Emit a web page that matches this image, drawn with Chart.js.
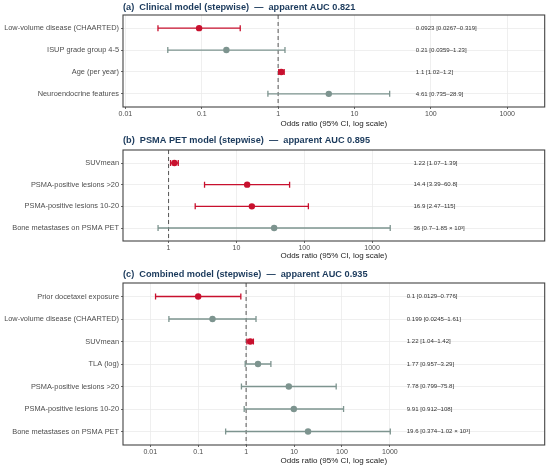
<!DOCTYPE html>
<html>
<head>
<meta charset="utf-8">
<script src="https://cdn.jsdelivr.net/npm/chart.js@4.4.1/dist/chart.umd.min.js"></script>
<style>
  body { margin: 0; background: #fff; }
  .panel { position: absolute; left: 0; width: 550px; }
</style>
</head>
<body>
<div class="panel" style="top:0px;height:130px"><canvas id="chart_a" width="550" height="130"></canvas></div>
<div class="panel" style="top:130px;height:132px"><canvas id="chart_b" width="550" height="132"></canvas></div>
<div class="panel" style="top:262px;height:205px"><canvas id="chart_c" width="550" height="205"></canvas></div>
<script>
// panel (a) clinical model
var titleA = '(a)  Clinical model (stepwise)  \u2014  apparent AUC 0.821';
var labelsA = ['Low-volume disease (CHAARTED)', 'ISUP grade group 4-5', 'Age (per year)', 'Neuroendocrine features'];
var orA = [0.0923, 0.21, 1.1, 4.61];
var loA = [0.0267, 0.0359, 1.02, 0.735];
var hiA = [0.319, 1.23, 1.2, 28.9];
var ciTextA = ['0.0923 [0.0267\u20130.319]', '0.21 [0.0359\u20131.23]', '1.1 [1.02\u20131.2]', '4.61 [0.735\u201328.9]'];

// panel (b) PSMA PET model
var titleB = '(b)  PSMA PET model (stepwise)  \u2014  apparent AUC 0.895';
var labelsB = ['SUVmean', 'PSMA-positive lesions >20', 'PSMA-positive lesions 10-20', 'Bone metastases on PSMA PET'];
var orB = [1.22, 14.4, 16.9, 36];
var loB = [1.07, 3.39, 2.47, 0.7];
var hiB = [1.39, 60.8, 115, 1850];
var ciTextB = ['1.22 [1.07\u20131.39]', '14.4 [3.39\u201360.8]', '16.9 [2.47\u2013115]', '36 [0.7\u20131.85 \u00d7 10\u00b3]'];

// panel (c) combined model
var titleC = '(c)  Combined model (stepwise)  \u2014  apparent AUC 0.935';
var labelsC = ['Prior docetaxel exposure', 'Low-volume disease (CHAARTED)', 'SUVmean', 'TLA (log)',
               'PSMA-positive lesions >20', 'PSMA-positive lesions 10-20', 'Bone metastases on PSMA PET'];
var orC = [0.1, 0.199, 1.22, 1.77, 7.78, 9.91, 19.6];
var loC = [0.0129, 0.0245, 1.04, 0.957, 0.799, 0.912, 0.374];
var hiC = [0.776, 1.61, 1.42, 3.29, 75.8, 108, 1020];
var ciTextC = ['0.1 [0.0129\u20130.776]', '0.199 [0.0245\u20131.61]', '1.22 [1.04\u20131.42]', '1.77 [0.957\u20133.29]',
               '7.78 [0.799\u201375.8]', '9.91 [0.912\u2013108]', '19.6 [0.374\u20131.02 \u00d7 10\u00b3]'];

var tickVals = [0.01, 0.1, 1, 10, 100, 1000];
var tickLabels = ['0.01', '0.1', '1', '10', '100', '1000'];

var RED = '#c8102e';
var GREY = '#7d948f';
var FONT = '"Liberation Sans", Arial, sans-serif';

function drawPanel(id, title, labels, or, lo, hi, ciText, xmin, xmax, topPad, xHeight, titleY) {
  var ctx = document.getElementById(id).getContext('2d');
  var colors = [];
  for (var i = 0; i < or.length; i++) {
    colors[i] = (lo[i] > 1 || hi[i] < 1) ? RED : GREY;
  }
  var textX = 2.2 * Math.max.apply(null, hi);

  var datasets = [{
    type: 'scatter',
    data: or.map(function (v, i) { return {x: v, y: i}; }),
    pointBackgroundColor: colors,
    pointBorderWidth: 0,
    pointRadius: 3.2,
    order: 0
  }];
  for (var j = 0; j < or.length; j++) {
    datasets.push({
      type: 'line',
      data: [{x: lo[j], y: j}, {x: hi[j], y: j}],
      borderColor: colors[j],
      borderWidth: 1.3,
      pointStyle: 'line',
      pointRotation: 90,
      pointRadius: 3,
      pointBorderColor: colors[j],
      pointBorderWidth: 1.3,
      order: 1
    });
  }

  var panelPlugin = {
    id: 'panel_' + id,
    beforeDatasetsDraw: function (chart) {
      var c = chart.ctx, a = chart.chartArea;
      var x1 = chart.scales.x.getPixelForValue(1);
      c.save();
      c.strokeStyle = '#555';
      c.lineWidth = 1;
      c.setLineDash([4, 3]);
      c.beginPath();
      c.moveTo(x1, a.top);
      c.lineTo(x1, a.bottom);
      c.stroke();
      c.restore();
    },
    afterDatasetsDraw: function (chart) {
      var c = chart.ctx;
      var xs = chart.scales.x, ys = chart.scales.y;
      c.save();
      c.font = '6.1px ' + FONT;
      c.fillStyle = '#333';
      c.textAlign = 'left';
      c.textBaseline = 'middle';
      for (var k = 0; k < ciText.length; k++) {
        c.fillText(ciText[k], xs.getPixelForValue(textX), ys.getPixelForValue(k));
      }
      c.restore();
    },
    afterDraw: function (chart) {
      var c = chart.ctx, a = chart.chartArea;
      c.save();
      c.strokeStyle = '#444';
      c.lineWidth = 1.1;
      c.strokeRect(a.left, a.top, a.right - a.left, a.bottom - a.top);
      c.font = 'bold 9.2px ' + FONT;
      c.fillStyle = '#1b3a5c';
      c.textAlign = 'left';
      c.textBaseline = 'middle';
      c.fillText(title, a.left, titleY);
      c.restore();
    }
  };

  return new Chart(ctx, {
    data: {datasets: datasets},
    plugins: [panelPlugin],
    options: {
      responsive: false,
      animation: false,
      layout: {padding: {left: 0, right: 3, top: topPad, bottom: 0}},
      plugins: {legend: {display: false}, tooltip: {enabled: false}},
      scales: {
        x: {
          type: 'logarithmic',
          min: xmin,
          max: xmax,
          afterBuildTicks: function (scale) {
            scale.ticks = tickVals.filter(function (v) { return v >= xmin && v <= xmax; })
                                  .map(function (v) { return {value: v}; });
          },
          afterFit: function (scale) { scale.height = xHeight; },
          ticks: {
            autoSkip: false,
            maxRotation: 0,
            padding: 1,
            color: '#4d4d4d',
            font: {family: FONT, size: 7},
            callback: function (v) { return tickLabels[tickVals.indexOf(v)]; }
          },
          grid: {color: '#ebebeb', lineWidth: 0.8, tickLength: 2, tickColor: '#444'},
          border: {display: false},
          title: {
            display: true,
            text: 'Odds ratio (95% CI, log scale)',
            color: '#222',
            font: {family: FONT, size: 8},
            padding: {top: 0, bottom: 1}
          }
        },
        y: {
          type: 'linear',
          reverse: true,
          min: -0.6,
          max: labels.length - 0.4,
          afterBuildTicks: function (scale) {
            scale.ticks = labels.map(function (l, i) { return {value: i}; });
          },
          afterFit: function (scale) { scale.width = 123; },
          ticks: {
            autoSkip: false,
            padding: 2,
            color: '#4d4d4d',
            font: {family: FONT, size: 7.4},
            callback: function (v) { return labels[v]; }
          },
          grid: {color: '#ebebeb', lineWidth: 0.8, tickLength: 2, tickColor: '#444'},
          border: {display: false}
        }
      }
    }
  });
}

drawPanel('chart_a', titleA, labelsA, orA, loA, hiA, ciTextA, 0.0093, 3100, 15, 23, 7);
drawPanel('chart_b', titleB, labelsB, orB, loB, hiB, ciTextB, 0.213, 3.5e5, 20, 21, 10);
drawPanel('chart_c', titleC, labelsC, orC, loC, hiC, ciTextC, 0.0027, 1.7e6, 21, 22, 12);
</script>
</body>
</html>
